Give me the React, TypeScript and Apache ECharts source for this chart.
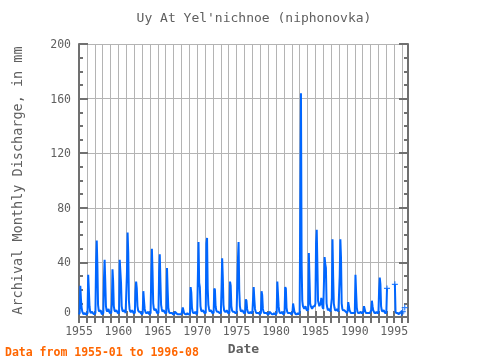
import React, { useEffect, useRef } from "react";
import * as echarts from "echarts";

const TITLE = "Uy At Yel'nichnoe (niphonovka)";
const Y_NAME = "Archival Monthly Discharge, in mm";
const X_NAME = "Date";
const FOOTER = "Data from 1955-01 to 1996-08";
const START_YEAR = 1955;
const YEAR_LABELS = [1955, 1960, 1965, 1970, 1975, 1980, 1985, 1990, 1995];
const Y_TICKS = [0, 40, 80, 120, 160, 200];

// Monthly discharge (mm), one row per year, Jan..Dec (1996 ends in Aug)
const MONTHLY: (number | null)[][] = [
  [2, 3, 23, 13, 7, 4, 3, 2, 2, 3, 2, 2], // 1955
  [2, 3, 31, 20, 8, 4, 3, 3, 4, 3, 3, 2], // 1956
  [2, 3, 40, 56, 38, 9, 5, 4, 4, 5, 3, 2], // 1957
  [2, 3, 28, 42, 26, 8, 5, 4, 5, 6, 4, 3], // 1958
  [3, 3, 10, 35, 26, 8, 5, 4, 4, 5, 4, 3], // 1959
  [3, 3, 42, 42, 25, 8, 5, 4, 4, 5, 4, 3], // 1960
  [3, 32, 62, 47, 12, 6, 4, 4, 4, 5, 4, 3], // 1961
  [3, 3, 19, 26, 21, 8, 5, 4, 4, 4, 3, 3], // 1962
  [2, 3, 19, 12, 6, 4, 3, 3, 3, 4, 3, 2], // 1963
  [2, 3, 29, 50, 33, 10, 6, 5, 5, 6, 4, 3], // 1964
  [3, 3, 33, 46, 26, 9, 6, 4, 4, 5, 4, 3], // 1965
  [3, 3, 36, 20, 7, 4, 3, 3, 3, 3, 3, 2], // 1966
  [2, 2, 4, 4, 3, 3, 2, 2, 2, 2, 2, 2], // 1967
  [2, 2, 7, 5, 3, 3, 2, 2, 2, 3, 2, 2], // 1968
  [2, 3, 22, 18, 7, 4, 3, 3, 3, 4, 3, 2], // 1969
  [3, 29, 55, 25, 22, 8, 5, 4, 4, 5, 4, 3], // 1970
  [3, 3, 54, 58, 21, 9, 6, 4, 4, 5, 4, 3], // 1971
  [3, 3, 21, 20, 8, 5, 4, 4, 4, 4, 3, 3], // 1972
  [3, 20, 43, 29, 9, 5, 4, 4, 4, 5, 4, 3], // 1973
  [3, 3, 26, 23, 8, 5, 4, 4, 4, 4, 3, 3], // 1974
  [3, 3, 42, 55, 20, 8, 5, 4, 4, 5, 4, 3], // 1975
  [3, 3, 13, 12, 6, 4, 3, 3, 3, 4, 3, 3], // 1976
  [3, 3, 22, 13, 6, 4, 3, 3, 3, 3, 3, 2], // 1977
  [2, 3, 19, 16, 6, 4, 3, 3, 3, 3, 3, 2], // 1978
  [2, 2, 4, 4, 3, 3, 2, 2, 2, 3, 2, 2], // 1979
  [2, 3, 26, 26, 8, 4, 3, 3, 3, 4, 3, 2], // 1980
  [2, 3, 22, 21, 7, 4, 3, 3, 3, 3, 3, 2], // 1981
  [2, 3, 10, 7, 4, 3, 2, 2, 2, 3, 2, 2], // 1982
  [3, 84, 164, 39, 12, 8, 7, 6, 6, 8, 6, 5], // 1983
  [5, 5, 47, 28, 10, 8, 7, 6, 6, 8, 8, 8], // 1984
  [10, 54, 64, 39, 12, 10, 8, 8, 10, 14, 10, 7], // 1985
  [6, 6, 44, 39, 36, 10, 7, 5, 5, 6, 5, 4], // 1986
  [4, 14, 57, 30, 10, 7, 5, 5, 5, 6, 5, 4], // 1987
  [4, 30, 57, 43, 10, 6, 5, 5, 5, 5, 4, 4], // 1988
  [3, 4, 11, 8, 5, 4, 3, 3, 3, 3, 3, 3], // 1989
  [3, 31, 18, 7, 4, 3, 3, 3, 3, 4, 3, 3], // 1990
  [3, 4, 8, 6, 4, 3, 3, 3, 3, 3, 3, 3], // 1991
  [3, 5, 12, 8, 5, 4, 3, 3, 3, 4, 3, 3], // 1992
  [3, 20, 29, 24, 8, 5, 4, 4, 5, 4, 3, 3], // 1993
  [3, 21, null, null, null, null, null, null, null, null, null, null], // 1994
  [null, 24, 4, 3, 3, 3, 3, 2, 3, 3, 3, 3], // 1995
  [null, 4, null, null, 7, null, null, null], // 1996
];

const FONT = "DejaVu Sans Mono";
const AXIS_COLOR = "#707070";
const GRID_COLOR = "#b4b4b4";
const TEXT_COLOR = "#606060";
const LINE_COLOR = "#0066ff";
const PLUS = "path://M4,0 H6 V4 H10 V6 H6 V10 H4 V6 H0 V4 H4 Z";

export default function App() {
  const ref = useRef<HTMLDivElement>(null);
  useEffect(() => {
    if (!ref.current) return;
    const chart = echarts.init(ref.current, null, { renderer: "svg" });
    const flat: { x: number; v: number | null }[] = [];
    MONTHLY.forEach((row, yi) =>
      row.forEach((v, mi) => flat.push({ x: START_YEAR + yi + mi / 12, v }))
    );
    const lineData = flat.map((p) => [p.x, p.v === null ? "-" : p.v]);
    const markData = flat
      .filter(
        (p, i) =>
          p.v !== null &&
          ((i > 0 && flat[i - 1].v === null) ||
            (i < flat.length - 1 && flat[i + 1].v === null))
      )
      .map((p) => [p.x, p.v]);

    const xMin = START_YEAR;
    const xMax = 1996.75;
    const tickStyle = { color: AXIS_COLOR, width: 2 };

    chart.setOption({
      animation: false,
      grid: { left: 79, right: 72, top: 44, bottom: 38 },
      xAxis: [
        {
          type: "value",
          min: xMin,
          max: xMax,
          interval: 1,
          position: "bottom",
          axisLine: { lineStyle: { color: AXIS_COLOR, width: 2 } },
          axisTick: { inside: true, length: 6, lineStyle: tickStyle },
          axisLabel: {
            formatter: (v: number) =>
              YEAR_LABELS.includes(Math.round(v)) && Math.abs(v - Math.round(v)) < 1e-6
                ? String(Math.round(v))
                : "",
            color: TEXT_COLOR,
            fontFamily: FONT,
            fontSize: 11.5,
            margin: 8,
            showMaxLabel: false,
          },
          splitLine: { show: true, lineStyle: { color: GRID_COLOR, width: 1 } },
          name: X_NAME,
          nameLocation: "middle",
          nameGap: 19,
          nameTextStyle: { color: TEXT_COLOR, fontFamily: FONT, fontSize: 13, fontWeight: "bold" },
        },
        {
          type: "value",
          min: xMin,
          max: xMax,
          interval: 1,
          position: "top",
          axisLine: { lineStyle: { color: AXIS_COLOR, width: 2 } },
          axisTick: { inside: true, length: 6, lineStyle: tickStyle },
          axisLabel: { show: false },
          splitLine: { show: false },
        },
      ],
      yAxis: [
        {
          type: "value",
          min: Y_TICKS[0],
          max: Y_TICKS[Y_TICKS.length - 1],
          interval: Y_TICKS[1] - Y_TICKS[0],
          position: "left",
          axisLine: { lineStyle: { color: AXIS_COLOR, width: 2 } },
          axisTick: { inside: true, length: 9, lineStyle: tickStyle },
          minorTick: { show: true, splitNumber: 4, length: 4, lineStyle: tickStyle },
          axisLabel: {
            color: TEXT_COLOR,
            fontFamily: FONT,
            fontSize: 11.5,
            margin: 8,
            formatter: (v: number) => (v === 0 ? "{z|0}" : String(v)),
            rich: {
              z: {
                color: TEXT_COLOR,
                fontFamily: FONT,
                fontSize: 11.5,
                padding: [0, 0, 10, 0],
              },
            },
          },
          splitLine: { show: true, lineStyle: { color: GRID_COLOR, width: 1 } },
          name: Y_NAME,
          nameLocation: "middle",
          nameGap: 55,
          nameRotate: 90,
          nameTextStyle: { color: TEXT_COLOR, fontFamily: FONT, fontSize: 13.5 },
        },
        {
          type: "value",
          min: Y_TICKS[0],
          max: Y_TICKS[Y_TICKS.length - 1],
          interval: Y_TICKS[1] - Y_TICKS[0],
          position: "right",
          axisLine: { show: true, lineStyle: { color: AXIS_COLOR, width: 2 } },
          axisTick: { show: true, inside: true, length: 9, lineStyle: tickStyle },
          minorTick: { show: true, splitNumber: 4, length: 4, lineStyle: tickStyle },
          axisLabel: { show: false },
          splitLine: { show: false },
        },
      ],
      graphic: [
        {
          type: "text",
          x: 254,
          y: 17,
          style: {
            text: TITLE,
            fill: TEXT_COLOR,
            font: `13px "${FONT}"`,
            textAlign: "center",
            textVerticalAlign: "middle",
          },
        },
        {
          type: "text",
          x: 5,
          y: 352,
          style: {
            text: FOOTER,
            fill: "#ff6600",
            font: `bold 11.5px "${FONT}"`,
            textAlign: "left",
            textVerticalAlign: "middle",
          },
        },
      ],
      series: [
        {
          type: "line",
          xAxisIndex: 0,
          yAxisIndex: 0,
          data: lineData,
          showSymbol: false,
          connectNulls: false,
          lineStyle: { color: LINE_COLOR, width: 2 },
          itemStyle: { color: LINE_COLOR },
          z: 5,
        },
        {
          type: "scatter",
          xAxisIndex: 0,
          yAxisIndex: 0,
          data: markData,
          symbol: PLUS,
          symbolSize: 6,
          itemStyle: { color: LINE_COLOR },
          z: 6,
        },
      ],
    });
    return () => chart.dispose();
  }, []);
  return (
    <div
      ref={ref}
      style={{ position: "fixed", left: 0, top: 0, width: 480, height: 360 }}
    />
  );
}
